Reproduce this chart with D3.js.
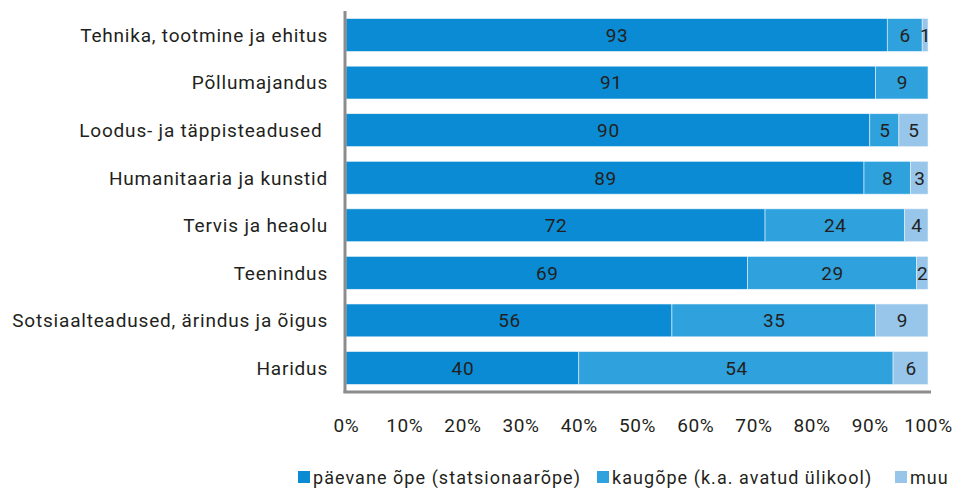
<!DOCTYPE html>
<html>
<head>
<meta charset="utf-8">
<script src="https://cdn.jsdelivr.net/npm/d3@7"></script>
<style>
  body { margin: 0; background: #fff; }
  text { font-family: Roboto, "Noto Sans", sans-serif; fill: #231f20; }
</style>
</head>
<body>
<div id="chart"></div>
<script>
let categories = ['Tehnika, tootmine ja ehitus', 'Põllumajandus', 'Loodus- ja täppisteadused ', 'Humanitaaria ja kunstid',
    'Tervis ja heaolu', 'Teenindus', 'Sotsiaalteadused, ärindus ja õigus', 'Haridus'];
let seriesNames = ['päevane õpe (statsionaarõpe)', 'kaugõpe (k.a. avatud ülikool)', 'muu'];
let paevane = [93, 91, 90, 89, 72, 69, 56, 40];
let kaugope = [6, 9, 5, 8, 24, 29, 35, 54];
let muu = [1, 0, 5, 3, 4, 2, 9, 6];
let xTicks = [0, 10, 20, 30, 40, 50, 60, 70, 80, 90, 100];

let colors = ['#0a8bd3', '#2fa1dc', '#97c6ea'];

let width = 962, height = 488;
let margin = {top: 11, left: 346, right: 34, bottom: 96};

let svg = d3.select('#chart').append('svg')
    .attr('width', width)
    .attr('height', height);

let x = d3.scaleLinear().domain([0, 100]).range([margin.left, width - margin.right]);
let y = d3.scaleBand().domain(categories).range([margin.top, height - margin.bottom]).paddingInner(0.31).paddingOuter(0.16);

let rows = categories.map((c, i) => ({cat: c, values: [paevane[i], kaugope[i], muu[i]]}));
let stack = d3.stack().keys([0, 1, 2]).value((d, k) => d.values[k]);
let layers = stack(rows);

layers.forEach((layer, k) => {
    let g = svg.append('g');
    g.selectAll('rect')
        .data(layer)
        .enter()
        .append('rect')
        .attr('x', (d) => x(d[0]))
        .attr('y', (d) => y(d.data.cat))
        .attr('width', (d) => x(d[1]) - x(d[0]))
        .attr('height', y.bandwidth())
        .attr('fill', colors[k])
        .attr('stroke', '#e8f3fb')
        .attr('stroke-width', 0.6);

    g.selectAll('text')
        .data(layer.filter((d) => d[1] - d[0] > 0))
        .enter()
        .append('text')
        .attr('x', (d) => (x(d[0]) + x(d[1])) / 2 + 0.5)
        .attr('y', (d) => y(d.data.cat) + y.bandwidth() / 2)
        .attr('dy', '0.36em')
        .attr('text-anchor', 'middle')
        .style('font-size', '19px')
        .style('letter-spacing', '0.6px')
        .text((d) => d[1] - d[0]);
});

// category labels
svg.append('g').selectAll('text')
    .data(categories)
    .enter()
    .append('text')
    .attr('x', 328)
    .attr('y', (d) => y(d) + y.bandwidth() / 2)
    .attr('dy', '0.36em')
    .attr('text-anchor', 'end')
    .style('font-size', '19px')
    .style('letter-spacing', '0.8px')
    .style('white-space', 'pre')
    .text((d) => d);

// axes lines
let bottomY = height - margin.bottom;
svg.append('line')
    .attr('x1', margin.left - 1).attr('x2', margin.left - 1)
    .attr('y1', margin.top).attr('y2', bottomY + 1)
    .attr('stroke', '#8c8c8c').attr('stroke-width', 3);
svg.append('line')
    .attr('x1', margin.left - 2.5).attr('x2', x(100) + 3)
    .attr('y1', bottomY).attr('y2', bottomY)
    .attr('stroke', '#8c8c8c').attr('stroke-width', 3);

// x tick labels
svg.append('g').selectAll('text')
    .data(xTicks)
    .enter()
    .append('text')
    .attr('x', (d) => x(d) + 0.5)
    .attr('y', 432)
    .attr('text-anchor', 'middle')
    .style('font-size', '19px')
    .style('letter-spacing', '0.6px')
    .text((d) => d + '%');

// legend
let legendX = [298, 597, 895];
let legend = svg.append('g').selectAll('g')
    .data(seriesNames)
    .enter()
    .append('g')
    .attr('transform', (d, i) => 'translate(' + legendX[i] + ',471)');
legend.append('rect')
    .attr('width', 12).attr('height', 12)
    .attr('fill', (d, i) => colors[i]);
legend.append('text')
    .attr('x', 15)
    .attr('y', 13)
    .style('font-size', '18px')
    .style('letter-spacing', '1.05px')
    .text((d) => d);
</script>
</body>
</html>
